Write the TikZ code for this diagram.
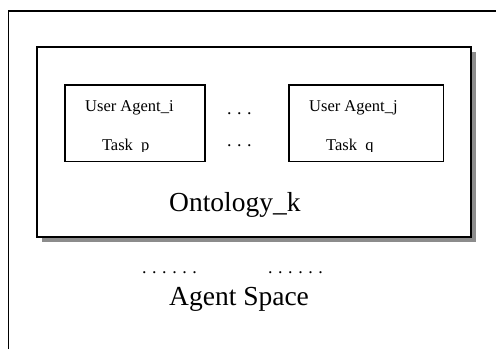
\documentclass[tikz,border=0pt]{standalone}
\usepackage{fontspec}
\setmainfont{Liberation Serif}
\usetikzlibrary{shadows}
% a run of spaced full stops
\newcommand\spacedstops[1]{.\foreach \k in {2,...,#1}{\hspace{5.6bp}.}}
\begin{document}
\begin{tikzpicture}[x=1bp,y=-1bp,
  frame/.style={draw, line width=1.6bp, inner sep=0pt, anchor=north west},
  ontobox/.style={frame, line width=2bp, fill=white,
    drop shadow={shadow xshift=5bp, shadow yshift=-5bp, opacity=1, fill=gray!90}},
  agentbox/.style={frame, line width=1.5bp},
  small/.style={font=\fontsize{16.5bp}{18bp}\selectfont, inner sep=0pt, anchor=base west},
  big/.style={font=\fontsize{27.5bp}{30bp}\selectfont, inner sep=0pt, anchor=base west},
  dots/.style={font=\fontsize{18bp}{20bp}\selectfont, inner sep=0pt, anchor=base west}]
  \useasboundingbox (0,0) rectangle (496,349);
  % agent space frame: its right and bottom sides lie past the page
  \coordinate (sbot) at (8.3,349);
  \coordinate (scorner) at (8.3,10.7);
  \coordinate (sright) at (496,10.7);
  \draw[line width=1.6bp] (sbot) -- (scorner) -- (sright);
  % ontology box with its shadow
  \node[ontobox, minimum width=434.5bp, minimum height=189.5bp] (onto) at (35.8,46.2) {};
  % user agent boxes
  \node[agentbox, minimum width=140bp, minimum height=76.5bp] (agi) at (64,84.2) {};
  \node[agentbox, minimum width=154.5bp, minimum height=76.5bp] (agj) at (288.2,84.2) {};
  \node[small] (ai) at (85,111) {User Agent\_i};
  \node[small] (aj) at (309,111) {User Agent\_j};
  \begin{scope}
    \clip (64,84) rectangle (442,151.2);
    \node[small] (tp) at (101.8,150) {Task\ \ p};
    \node[small] (tq) at (326,150) {Task\ \ q};
  \end{scope}
  \node[dots] (d1) at (226.8,114.5) {\spacedstops{3}};
  \node[dots] (d2) at (226.8,146.5) {\spacedstops{3}};
  \node[big] (ok) at (169,211.5) {Ontology\_k};
  \node[dots] (d3) at (141.8,273.5) {\spacedstops{6}};
  \node[dots] (d4) at (267.8,273.5) {\spacedstops{6}};
  \node[big] (as) at (169,305) {Agent Space};
\end{tikzpicture}
\end{document}
